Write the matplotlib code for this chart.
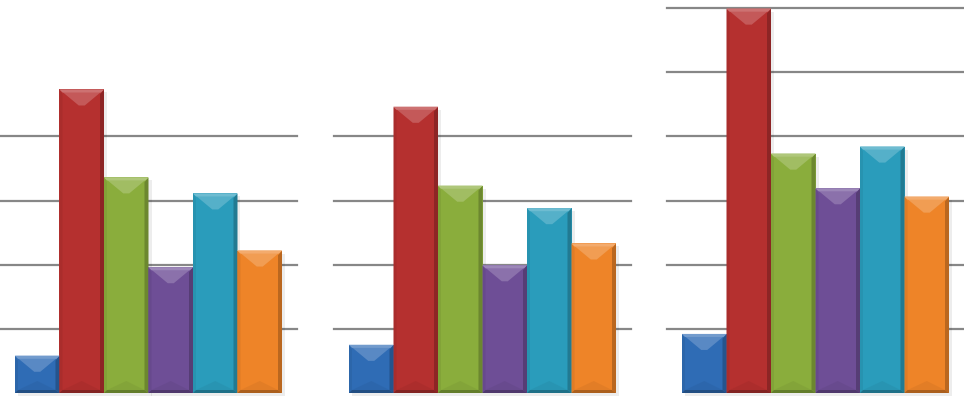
import matplotlib
matplotlib.use("Agg")
import matplotlib.pyplot as plt
from matplotlib.patches import Polygon
import matplotlib.colors as mcolors
import numpy as np

# ---- data ----
categories = ["A", "B", "C", "D", "E", "F"]
panel1_values = [0.58, 4.73, 3.36, 1.96, 3.11, 2.22]
panel2_values = [0.75, 4.46, 3.23, 1.99, 2.88, 2.33]
panel3_values = [0.92, 5.99, 3.73, 3.19, 3.84, 3.06]
panel1_grid = [1, 2, 3, 4]
panel2_grid = [1, 2, 3, 4]
panel3_grid = [1, 2, 3, 4, 5, 6]
bar_colors = ["#2F6CB5", "#B5302F", "#8AAD3C", "#6E4E96", "#2A9CBB", "#EE8428"]

W, H, DPI = 964, 416, 100
fig = plt.figure(figsize=(W / DPI, H / DPI), dpi=DPI)
fig.patch.set_facecolor("white")

panels = [
    (panel1_values, panel1_grid, 0),
    (panel2_values, panel2_grid, 334),
    (panel3_values, panel3_grid, 667),
]
panel_w_px = 297
base_px = 393          # y pixel (from top) of baseline
top_px = 8             # y pixel of value 6
ymax = 6.0
px_per_y = (base_px - top_px) / ymax
bar_px = 44.5
margin_px = 15
xpad = margin_px / bar_px


def shade(c, f):
    r = np.array(mcolors.to_rgb(c))
    if f >= 0:
        return tuple(r + (1 - r) * f)
    return tuple(r * (1 + f))


for vals, grid, x0 in panels:
    ax = fig.add_axes([x0 / W, (H - base_px) / H, panel_w_px / W,
                       (base_px - top_px) / H])
    ax.set_xlim(-0.5 - xpad, len(vals) - 0.5 + xpad)
    ax.set_ylim(0, ymax)
    ax.axis("off")
    for g in grid:
        ax.axhline(g, color="#878787", lw=1.6, zorder=1, clip_on=False)
    xs = np.arange(len(vals))
    # soft shadow
    ax.bar(xs + 3 / bar_px, vals, width=1.0, bottom=-3 / px_per_y,
           color="#000000", alpha=0.07, zorder=2, linewidth=0, clip_on=False)
    bars = ax.bar(xs, vals, width=1.0, color=bar_colors, zorder=3,
                  linewidth=0, clip_on=False)
    dx = 1 / bar_px
    dy = 1 / px_per_y
    for b, c in zip(bars, bar_colors):
        l = b.get_x(); r = l + b.get_width(); t = b.get_height()
        cx = (l + r) / 2
        depth = min(16 * dy, t * 0.6)
        # left highlight strip
        ax.add_patch(Polygon([(l, 0), (l + 3 * dx, 3 * dy), (l + 3 * dx, t - depth * 0.3),
                              (l, t)], closed=True, color=shade(c, -0.06),
                             lw=0, zorder=4, clip_on=False))
        # right dark strip
        ax.add_patch(Polygon([(r, 0), (r - 4 * dx, 3 * dy), (r - 4 * dx, t - depth * 0.3),
                              (r, t)], closed=True, color=shade(c, -0.22),
                             lw=0, zorder=4, clip_on=False))
        # bottom dark strip
        ax.add_patch(Polygon([(l, 0), (r, 0), (r - 4 * dx, 3 * dy), (l + 3 * dx, 3 * dy)],
                             closed=True, color=shade(c, -0.28), lw=0, zorder=4,
                             clip_on=False))
        # bottom faint V
        ax.add_patch(Polygon([(l + 3 * dx, 3 * dy), (r - 4 * dx, 3 * dy),
                              (cx, min(12 * dy, t * 0.5))], closed=True,
                             color=shade(c, -0.08), alpha=0.6, lw=0, zorder=4,
                             clip_on=False))
        # top light V
        ax.add_patch(Polygon([(l, t), (r, t), (cx + 3 * dx, t - depth),
                              (cx - 3 * dx, t - depth)], closed=True,
                             color=shade(c, 0.2), lw=0, zorder=5, clip_on=False))
        # top edge highlight
        ax.add_patch(Polygon([(l, t), (r, t), (r - 3 * dx, t - 3 * dy),
                              (l + 3 * dx, t - 3 * dy)], closed=True,
                             color=shade(c, 0.32), lw=0, zorder=6, clip_on=False))

fig.savefig("out.png", dpi=DPI, facecolor="white")
